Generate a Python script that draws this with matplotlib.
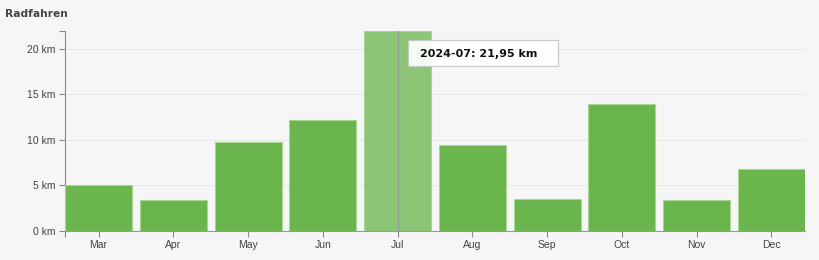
import matplotlib
matplotlib.use('Agg')
import matplotlib.pyplot as plt
from matplotlib.patches import Rectangle
from matplotlib.transforms import ScaledTranslation
import numpy as np

months = ['Mar', 'Apr', 'May', 'Jun', 'Jul', 'Aug', 'Sep', 'Oct', 'Nov', 'Dec']
km = [5.05, 3.45, 9.75, 12.2, 21.95, 9.4, 3.5, 13.95, 3.4, 6.8]
yticks = [0, 5, 10, 15, 20]
hover = 4  # Jul
tip_text = '2024-07: 21,95 km'

bg = '#f6f6f6'
fig = plt.figure(figsize=(8.2, 2.6), dpi=100, facecolor=bg)
ax = fig.add_axes([65/820, 29/260, 740/820, 200/260])
ax.set_facecolor(bg)

x = np.arange(len(months))
w = 0.897
colors = ['#6ab54e'] * len(months)
colors[hover] = '#8cc576'
ax.bar(x, km, width=w, color=colors, edgecolor='#a6d690', linewidth=0.8, zorder=3)

ax.set_xlim(-w/2, len(months) - 1 + w/2)
ax.set_ylim(0, max(km))
ax.set_yticks(yticks)
ax.set_yticklabels([f'{v} km' for v in yticks])
ax.set_yticks([max(km)], minor=True)
ax.set_xticks(x)
ax.set_xticklabels(months)
ax.set_xticks([-w/2], minor=True)
ax.grid(axis='y', which='major', color='#e8e8e8', linewidth=0.8, zorder=0)

for s in ['top', 'right']:
    ax.spines[s].set_visible(False)
ax.spines['left'].set_color('#888888')
ax.spines['bottom'].set_color('#999999')
ax.tick_params(axis='both', which='both', colors='#888888', labelcolor='#444444',
               labelsize=7.5, length=4.2, width=0.8)
ax.tick_params(axis='y', pad=2.5)
ax.tick_params(axis='x', pad=2.5)
for lab in ax.get_xticklabels() + ax.get_yticklabels():
    lab.set_family('Liberation Sans')

# hover line and tooltip (offsets in inches from top of hovered bar)
ax.axvline(hover, color='#999999', linewidth=0.8, zorder=4)
tip = fig.dpi_scale_trans + ScaledTranslation(hover, max(km), ax.transData)
ax.add_patch(Rectangle((0.10, -0.354), 1.50, 0.264, transform=tip, clip_on=False,
                       fc='white', ec='#c8c8c8', lw=0.9, alpha=0.92, zorder=6))
ax.text(0.22, -0.26, tip_text, transform=tip, ha='left', va='baseline',
        fontsize=8, fontweight='bold', color='#111111', family='DejaVu Sans', zorder=7)

fig.text(5.5/820, 1 - 17.3/260, 'Radfahren', fontsize=7.7, fontweight='bold',
         color='#444444', va='baseline', ha='left', family='DejaVu Sans')

plt.savefig('out.png', dpi=100, facecolor=bg)
